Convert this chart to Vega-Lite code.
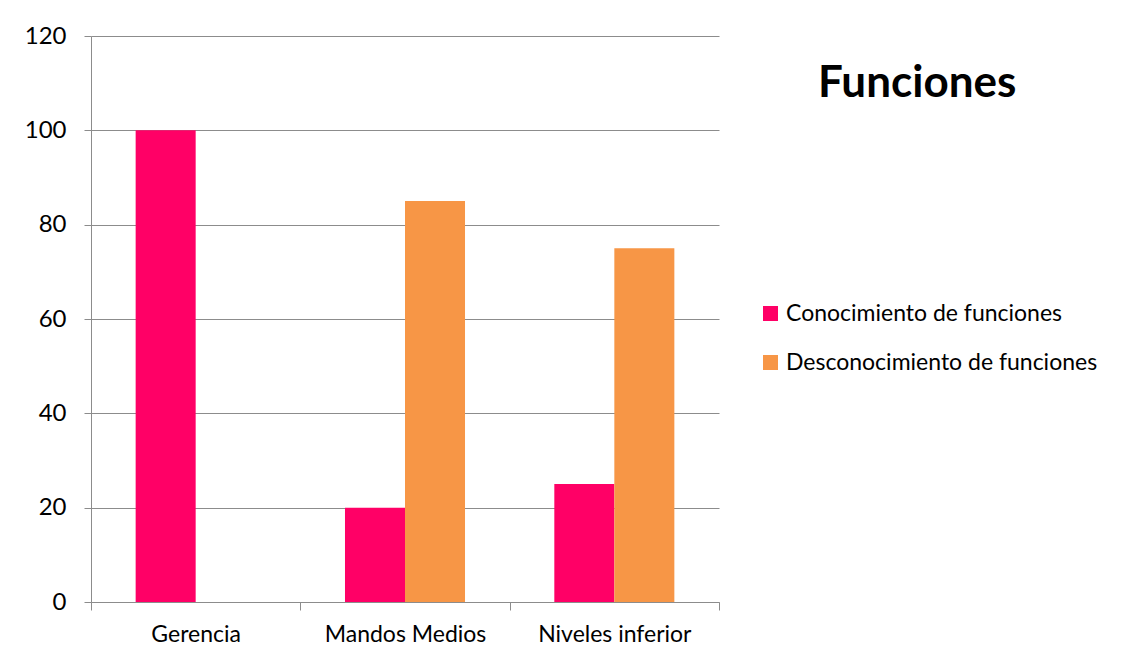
{
  "$schema": "https://vega.github.io/schema/vega-lite/v6.json",
  "autosize": {"type": "none"},
  "padding": {"left": 91, "top": 36, "right": 416, "bottom": 60},
  "width": 628,
  "height": 566,
  "background": "white",
  "title": {
    "text": "Funciones",
    "orient": "top",
    "anchor": "start",
    "frame": "group",
    "font": "Lato",
    "fontSize": 44,
    "fontWeight": "bold",
    "color": "#000000",
    "baseline": "alphabetic",
    "offset": 0,
    "dx": 727,
    "dy": 117
  },
  "data": {
    "values": [
      {"nivel": "Gerencia", "serie": "Conocimiento de funciones", "valor": 100},
      {"nivel": "Gerencia", "serie": "Desconocimiento de funciones", "valor": 0},
      {"nivel": "Mandos Medios", "serie": "Conocimiento de funciones", "valor": 20},
      {"nivel": "Mandos Medios", "serie": "Desconocimiento de funciones", "valor": 85},
      {"nivel": "Niveles inferior", "serie": "Conocimiento de funciones", "valor": 25},
      {"nivel": "Niveles inferior", "serie": "Desconocimiento de funciones", "valor": 75}
    ]
  },
  "mark": {"type": "bar"},
  "encoding": {
    "x": {
      "field": "nivel",
      "type": "nominal",
      "sort": null,
      "scale": {"paddingInner": 0, "paddingOuter": 0},
      "axis": {
        "title": null,
        "labelAngle": 0,
        "tickBand": "extent",
        "domainColor": "#8c8c8c",
        "tickColor": "#8c8c8c",
        "tickSize": 8,
        "labelPadding": 13,
        "labelFont": "Lato",
        "labelFontSize": 23,
        "labelColor": "#000000"
      }
    },
    "xOffset": {
      "field": "serie",
      "type": "nominal",
      "scale": {"paddingInner": 0, "paddingOuter": 0.744}
    },
    "y": {
      "field": "valor",
      "type": "quantitative",
      "scale": {"domain": [0, 120], "nice": false},
      "axis": {
        "title": null,
        "values": [0, 20, 40, 60, 80, 100, 120],
        "grid": true,
        "gridColor": "#8c8c8c",
        "gridOpacity": 1,
        "domainColor": "#8c8c8c",
        "tickColor": "#8c8c8c",
        "tickSize": 7,
        "labelPadding": 18,
        "labelFont": "Lato",
        "labelFontSize": 24,
        "labelColor": "#000000"
      }
    },
    "color": {
      "field": "serie",
      "type": "nominal",
      "scale": {
        "domain": ["Conocimiento de funciones", "Desconocimiento de funciones"],
        "range": ["#FF0066", "#F79646"]
      },
      "legend": {
        "title": null,
        "orient": "none",
        "legendX": 668,
        "legendY": 266,
        "symbolType": "square",
        "symbolSize": 225,
        "symbolStrokeWidth": 0,
        "labelFont": "Lato",
        "labelFontSize": 23,
        "labelLimit": 0,
        "labelColor": "#000000",
        "labelOffset": 4,
        "rowPadding": 25,
        "padding": 0
      }
    }
  },
  "config": {
    "view": {"stroke": null},
    "axis": {"domainWidth": 1, "tickWidth": 1, "gridWidth": 1}
  }
}
